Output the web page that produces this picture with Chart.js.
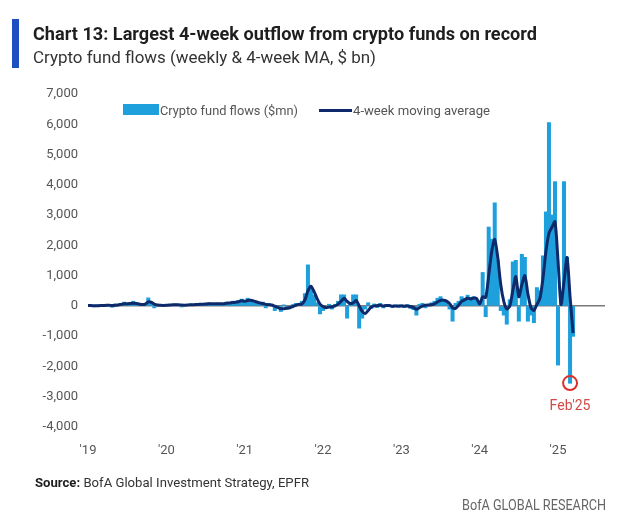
<!DOCTYPE html>
<html>
<head>
<meta charset="utf-8">
<script src="https://cdn.jsdelivr.net/npm/chart.js@4.4.1/dist/chart.umd.min.js"></script>
<style>
  body { margin: 0; background: #fff; width: 625px; height: 521px; overflow: hidden; position: relative;
         font-family: "Liberation Sans Narrow", Roboto, sans-serif; }
  #chart { position: absolute; left: 0; top: 0; }
  .txt { position: absolute; white-space: nowrap; transform-origin: left center; line-height: 1; }
  #bar { position: absolute; left: 12px; top: 19px; width: 7px; height: 49px; background: #1d4fc0; }
  #title { left: 33px; top: 25px; font-size: 18px; font-weight: bold; color: #1e1e1e; }
  #subtitle { left: 33px; top: 50px; font-size: 16px; color: #333; }
  .leg { top: 104px; font-size: 13px; color: #555; }
  #legBox { position: absolute; left: 123px; top: 104px; width: 36px; height: 11px; background: #1ea0dc; }
  #legLine { position: absolute; left: 319px; top: 109px; width: 33px; height: 3px; background: #0f2a6b; }
  #source { left: 35px; top: 476px; font-size: 13px; color: #333; }
  #source b { color: #1e1e1e; }
  #bofa { left: 462px; top: 498px; font-size: 14px; color: #666; }
</style>
</head>
<body>
<canvas id="chart" width="625" height="521"></canvas>
<div id="bar"></div>
<div class="txt" id="title">Chart 13: Largest 4-week outflow from crypto funds on record</div>
<div class="txt" id="subtitle">Crypto fund flows (weekly &amp; 4-week MA, $ bn)</div>
<div id="legBox"></div>
<div class="txt leg" id="leg1" style="left:160px">Crypto fund flows ($mn)</div>
<div id="legLine"></div>
<div class="txt leg" id="leg2" style="left:353px">4-week moving average</div>
<div class="txt" id="source"><b>Source:</b> BofA Global Investment Strategy, EPFR</div>
<div class="txt" id="bofa">BofA GLOBAL RESEARCH</div>

<script>
// fortnightly readings, $mn
const years = [2019, 2020, 2021, 2022, 2023, 2024, 2025]
const flows2019 = [20, 10, -20, 15, 30, 10, 40, 20, -40, 60, 30, 80, 120, 60, 90, 150, 60, 40, 30, 80, 260, 90, -60, 20, 30, 10]
const flows2020 = [30, 50, 20, 60, 40, -30, 20, 40, 60, 30, 50, 80, 40, 60, 100, 70, 50, 90, 60, 80, 120, 90, 150, 100, 180, 220]
const flows2021 = [150, 250, 200, 100, 80, 50, 120, -60, 80, 30, -150, -80, -180, 30, -100, -60, 40, 80, 60, 150, 400, 1350, 550, 350, 100, -260]
const flows2022 = [-150, -50, 50, -100, 50, 150, 360, 360, -400, 100, 360, 360, -730, -400, -100, 100, -80, 60, -50, 80, -60, 40, 30, -50, 20, -40]
const flows2023 = [30, -50, 40, -80, -120, -300, 50, 80, -60, 40, 100, 150, 250, 300, 200, 120, -100, -500, 80, 150, 300, 250, 350, 280, 300, 200]
const flows2024 = [100, 1100, -350, 2600, 2200, 3400, 1500, -150, -300, -600, 200, 1450, 1500, -500, 1700, 1600, -500, -300, -550, 600, 500, 1650, 3100, 6050, 3000, 4100]
const flows2025 = [-1950, 300, 4100, 1600, -2550, -1000]

const ma2019 = [10, 10, 5, 5, 10, 15, 20, 25, 10, 20, 30, 50, 70, 70, 80, 90, 80, 60, 45, 60, 130, 120, 60, 30, 20, 15]
const ma2020 = [20, 30, 35, 40, 40, 30, 25, 30, 40, 40, 45, 55, 55, 60, 70, 75, 70, 75, 70, 75, 90, 95, 110, 120, 140, 170]
const ma2021 = [150, 180, 190, 160, 130, 100, 80, 50, 40, 30, -10, -50, -90, -90, -80, -60, -20, 20, 50, 60, 200, 500, 650, 480, 250, 60]
const ma2022 = [-20, -60, -40, -30, 0, 60, 150, 250, 150, 80, 100, 180, 0, -180, -250, -150, -40, 0, 10, 20, 0, 10, 10, -10, 0, 0]
const ma2023 = [0, -10, 0, -20, -50, -110, -60, -10, 20, 30, 40, 70, 130, 180, 190, 160, 80, -60, -80, 20, 150, 200, 250, 230, 260, 240]
const ma2024 = [60, 300, 280, 1000, 1800, 2200, 1600, 700, 150, -100, 0, 500, 970, 300, 700, 1000, 400, -50, -150, 50, 250, 900, 1800, 2400, 2600, 2780]
const ma2025 = [1500, 50, 800, 1600, 300, -900]

const xTicks = [2019, 2020, 2021, 2022, 2023, 2024, 2025]
const yTicks = [-4000, -3000, -2000, -1000, 0, 1000, 2000, 3000, 4000, 5000, 6000, 7000]
const calloutLabel = "Feb'25"

const flowsByYear = [flows2019, flows2020, flows2021, flows2022, flows2023, flows2024, flows2025]
const maByYear = [ma2019, ma2020, ma2021, ma2022, ma2023, ma2024, ma2025]

// 26 readings per year, x as decimal year
const toPoints = (byYear) => byYear.flatMap((arr, k) => arr.map((v, i) => ({ x: years[k] + i / 26, y: v })))
const flowPoints = toPoints(flowsByYear)
const maPoints = toPoints(maByYear)

const FONT = '"Liberation Sans Narrow", Roboto, sans-serif'

// red ring round the lowest weekly bar
const callout = {
  id: "callout",
  afterDatasetsDraw(chart) {
    const meta = chart.getDatasetMeta(0)
    let idx = 0
    flowPoints.forEach((p, i) => { if (p.y < flowPoints[idx].y) idx = i })
    const el = meta.data[idx]
    const ctx = chart.ctx
    ctx.save()
    ctx.strokeStyle = "#d9302c"
    ctx.lineWidth = 2
    ctx.beginPath()
    ctx.arc(el.x, el.y, 7, 0, Math.PI * 2)
    ctx.stroke()
    ctx.fillStyle = "#d24a45"
    ctx.font = "14px " + FONT
    ctx.textAlign = "center"
    ctx.textBaseline = "middle"
    ctx.fillText(calloutLabel, el.x, el.y + 23)
    ctx.restore()
  }
}

new Chart(document.getElementById("chart"), {
  type: "bar",
  data: {
    datasets: [
      {
        type: "bar",
        data: flowPoints,
        backgroundColor: "#1ea0dc",
        borderWidth: 0,
        barPercentage: 1,
        categoryPercentage: 1,
        inflateAmount: 0.5,
        order: 1
      },
      {
        type: "line",
        data: maPoints,
        borderColor: "#0f2a6b",
        borderWidth: 3,
        pointRadius: 0,
        tension: 0.25,
        fill: false,
        order: 0
      }
    ]
  },
  options: {
    responsive: false,
    animation: false,
    layout: { padding: { top: 94, right: 20, bottom: 64, left: 0 } },
    plugins: { legend: { display: false }, tooltip: { enabled: false } },
    scales: {
      x: {
        type: "linear",
        min: 2019,
        max: 2025.6,
        offset: false,
        grid: { display: false, offset: false },
        border: { display: false },
        afterFit: (scale) => { scale.height = 30 },
        afterBuildTicks: (scale) => { scale.ticks = xTicks.map(v => ({ value: v })) },
        ticks: {
          autoSkip: false,
          maxRotation: 0,
          padding: 8,
          color: "#555",
          font: { size: 13, family: FONT },
          callback: (v) => "'" + String(v).slice(2)
        }
      },
      y: {
        min: yTicks[0],
        max: yTicks[yTicks.length - 1],
        afterFit: (scale) => { scale.width = 88 },
        afterBuildTicks: (scale) => { scale.ticks = yTicks.map(v => ({ value: v })) },
        border: { display: false },
        grid: {
          drawTicks: false,
          color: (c) => c.tick && c.tick.value === 0 ? "#7a7a7a" : "transparent",
          lineWidth: 1.5
        },
        ticks: {
          padding: 10,
          color: "#555",
          font: { size: 13, family: FONT },
          callback: (v) => v.toLocaleString("en-US")
        }
      }
    }
  },
  plugins: [callout]
})

// squeeze the html texts to the widths they have in the picture
function fitWidth(id, w) {
  const el = document.getElementById(id)
  const r = el.getBoundingClientRect().width
  el.style.transform = "scaleX(" + (w / r) + ")"
}
fitWidth("title", 504)
fitWidth("subtitle", 343)
fitWidth("leg1", 138)
fitWidth("leg2", 137)
fitWidth("source", 274)
fitWidth("bofa", 144)
</script>
</body>
</html>
